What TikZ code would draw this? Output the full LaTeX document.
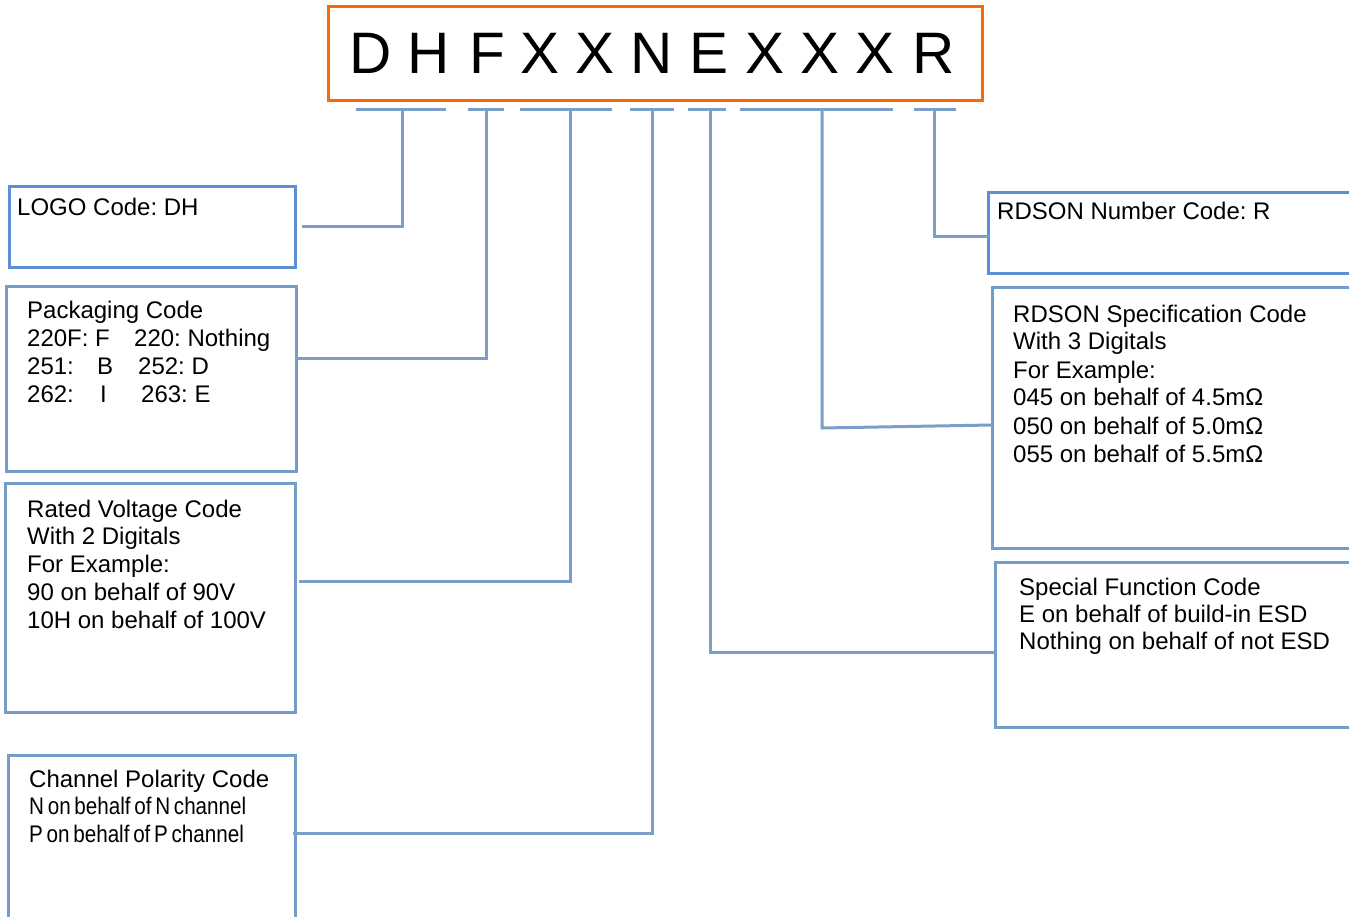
\documentclass[tikz,border=0pt]{standalone}
\usepackage{fontspec}
\setmainfont{Liberation Sans}
\usepackage{graphicx}
\frenchspacing
\definecolor{boxblue}{RGB}{116,156,200}
\definecolor{brightblue}{RGB}{92,143,212}
\definecolor{linkblue}{RGB}{122,160,202}
\definecolor{codeorange}{RGB}{255,104,0}
\tikzset{
  codebox/.style={draw=boxblue, line width=3pt, fill=none},
  brightbox/.style={draw=brightblue, line width=3pt, fill=none},
  link/.style={draw=linkblue, line width=3pt},
  letter/.style={anchor=base, inner sep=0pt, font=\fontsize{58.5}{60}\selectfont},
  txt/.style={anchor=base west, inner sep=0pt, font=\fontsize{24}{27.75}\selectfont},
}
\begin{document}
\begin{tikzpicture}[x=1pt,y=-1pt]
\useasboundingbox (0,0) rectangle (1349,917);
\clip (0,0) rectangle (1349,917);
\fill[white] (0,0) rectangle (1349,917);

% header
\draw[draw=codeorange, line width=3pt] (328,7) rectangle (982,101);
\node[letter] (l1) at (371,74) {D};
\node[letter] (l2) at (429,74) {H};
\node[letter] (l3) at (487,74) {F};
\node[letter] (l4) at (540,74) {X};
\node[letter] (l5) at (595,74) {X};
\node[letter] (l6) at (652,74) {N};
\node[letter] (l7) at (709,74) {E};
\node[letter] (l8) at (765,74) {X};
\node[letter] (l9) at (820,74) {X};
\node[letter] (l10) at (875,74) {X};
\node[letter] (l11) at (934,74) {R};

% underline segments
\draw[link] (356,110) -- (446,110);
\draw[link] (468,110) -- (504,110);
\draw[link] (520,110) -- (612,110);
\draw[link] (630,110) -- (674,110);
\draw[link] (688,110) -- (726,110);
\draw[link] (740,110) -- (893,110);
\draw[link] (914,110) -- (956,110);

% stub coordinates
\coordinate (sLogo) at (402,110);
\coordinate (sPack) at (486,110);
\coordinate (sVolt) at (570,110);
\coordinate (sChan) at (652,110);
\coordinate (sSpf) at (710,110);
\coordinate (sSpec) at (822,110);
\coordinate (sNum) at (934,110);

% boxes
\draw[brightbox] (9,187) rectangle (295,268);
\draw[codebox] (6,287) rectangle (296,471);
\draw[codebox] (5,483) rectangle (295,712);
\draw[codebox] (8,930) -- (8,755) -- (295,755) -- (295,930);
\draw[brightbox] (1360,193) -- (988,193) -- (988,274) -- (1360,274);
\draw[codebox] (1360,288) -- (992,288) -- (992,548) -- (1360,548);
\draw[codebox] (1360,562) -- (995,562) -- (995,727) -- (1360,727);

% connector ends
\coordinate (eLogo) at (302,227);
\coordinate (ePack) at (296,358);
\coordinate (eVolt) at (299,581);
\coordinate (eChan) at (293,833);
\coordinate (eSpf) at (995,652);
\coordinate (kSpec) at (822,428);
\coordinate (eSpec) at (992,425);
\coordinate (eNum) at (989,237);

\draw[link] (sLogo) |- (eLogo);
\draw[link] (sPack) |- (ePack);
\draw[link] (sVolt) |- (eVolt);
\draw[link] (sChan) |- (eChan);
\draw[link] (sSpf) |- (eSpf);
\draw[link, line join=miter] (sSpec) -- (kSpec) -- (eSpec);
\draw[link] (sNum) |- (eNum);

% texts
\node[txt] (tLogo) at (17,216) {LOGO Code: DH};
\node[txt] (tPack) at (27,319) {\begin{tabular}[t]{@{}l@{}}
Packaging Code\\
\makebox[107pt][l]{220F: F}220: Nothing\\
\makebox[111pt][l]{\makebox[70pt][l]{251:}B}252: D\\
\makebox[114pt][l]{\makebox[73pt][l]{262:}I}263: E
\end{tabular}};
\node[txt] (tVolt) at (27,517) {\begin{tabular}[t]{@{}l@{}}
Rated Voltage Code\\
With 2 Digitals\\
For Example:\\
90 on behalf of 90V\\
10H on behalf of 100V
\end{tabular}};
\node[txt, font=\fontsize{24}{27.5}\selectfont] (tChan) at (29,787) {\begin{tabular}[t]{@{}l@{}}
Channel Polarity Code\\
\scalebox{0.86}[1]{\spaceskip=0.18em plus 0.05em N on behalf of N channel}\\
\scalebox{0.86}[1]{\spaceskip=0.18em plus 0.05em P on behalf of P channel}
\end{tabular}};
\node[txt] (tNum) at (997,220) {RDSON Number Code: R};
\node[txt, font=\fontsize{24}{28}\selectfont] (tSpec) at (1013,322) {\begin{tabular}[t]{@{}l@{}}
RDSON Specification Code\\
With 3 Digitals\\
For Example:\\
045 on behalf of 4.5m\symbol{"03A9}\\
050 on behalf of 5.0m\symbol{"03A9}\\
055 on behalf of 5.5m\symbol{"03A9}
\end{tabular}};
\node[txt, font=\fontsize{24}{27}\selectfont] (tSpf) at (1019,595) {\begin{tabular}[t]{@{}l@{}}
Special Function Code\\
E on behalf of build-in ESD\\
Nothing on behalf of not ESD
\end{tabular}};
\end{tikzpicture}
\end{document}
